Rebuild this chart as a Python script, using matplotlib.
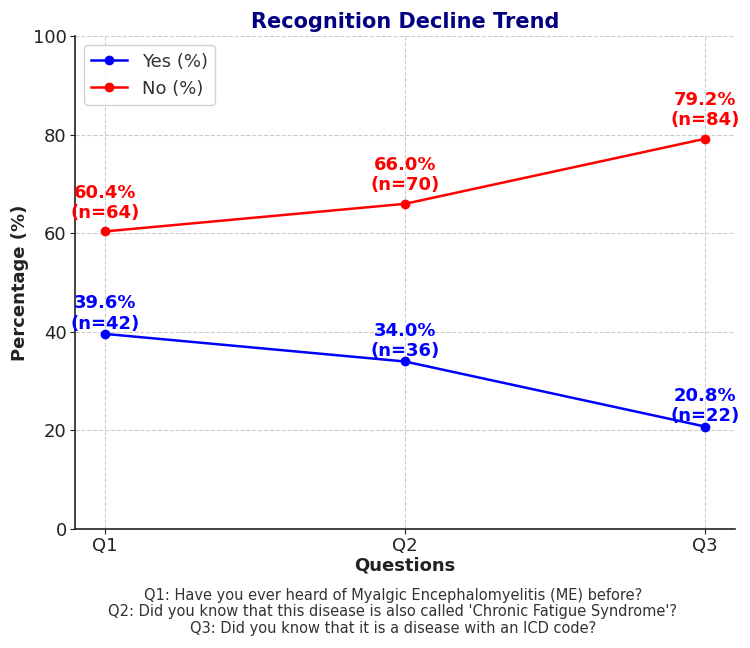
import matplotlib
matplotlib.use("Agg")
import matplotlib.pyplot as plt

# --- Dados ---
questions = ["Q1", "Q2", "Q3"]
yes_pct = [39.6, 34.0, 20.8]
no_pct = [60.4, 66.0, 79.2]
yes_n = [42, 36, 22]
no_n = [64, 70, 84]
footnote_lines = [
    "Q1: Have you ever heard of Myalgic Encephalomyelitis (ME) before?",
    "Q2: Did you know that this disease is also called 'Chronic Fatigue Syndrome'?",
    "Q3: Did you know that it is a disease with an ICD code?",
]

fig = plt.figure(figsize=(7.5, 6.48), dpi=100)
ax = fig.add_axes([0.1, 0.1836, 0.88, 0.7604])

x = range(len(questions))
ax.plot(x, yes_pct, marker="o", color="blue", linewidth=1.8, markersize=6, label="Yes (%)")
ax.plot(x, no_pct, marker="o", color="red", linewidth=1.8, markersize=6, label="No (%)")

# Rótulos dos pontos
for i, (p, n) in enumerate(zip(yes_pct, yes_n)):
    ax.annotate(f"{p:.1f}%\n(n={n})", (i, p), xytext=(0, 1), textcoords="offset points",
                ha="center", va="bottom", color="blue", fontsize=13, fontweight="bold",
                linespacing=1.15)
for i, (p, n) in enumerate(zip(no_pct, no_n)):
    ax.annotate(f"{p:.1f}%\n(n={n})", (i, p), xytext=(0, 7), textcoords="offset points",
                ha="center", va="bottom", color="red", fontsize=13, fontweight="bold",
                linespacing=1.15)

ax.set_ylim(0, 100)
ax.set_xticks(list(x))
ax.set_xticklabels(questions)
ax.tick_params(axis="both", labelsize=13, colors="#222222", pad=2.5)
ax.set_xlabel("Questions", fontsize=13, fontweight="bold", color="#222222", labelpad=1)
ax.set_ylabel("Percentage (%)", fontsize=13, fontweight="bold", color="#222222", labelpad=3)
ax.set_title("Recognition Decline Trend", fontsize=15, fontweight="bold", color="#000080", pad=6)
ax.grid(True, linestyle="--", color="#cccccc", linewidth=0.8)
ax.set_axisbelow(True)
for s in ["top", "right"]:
    ax.spines[s].set_visible(False)
for s in ["left", "bottom"]:
    ax.spines[s].set_color("#222222")
    ax.spines[s].set_linewidth(1.2)

leg = ax.legend(loc="upper left", fontsize=13, framealpha=0.9)
for t in leg.get_texts():
    t.set_color("#333333")

fig.text(0.524, 0.019, "\n".join(footnote_lines), ha="center", va="bottom",
         fontsize=10.5, color="#333333", linespacing=1.1)

plt.savefig("out.png", dpi=100)
